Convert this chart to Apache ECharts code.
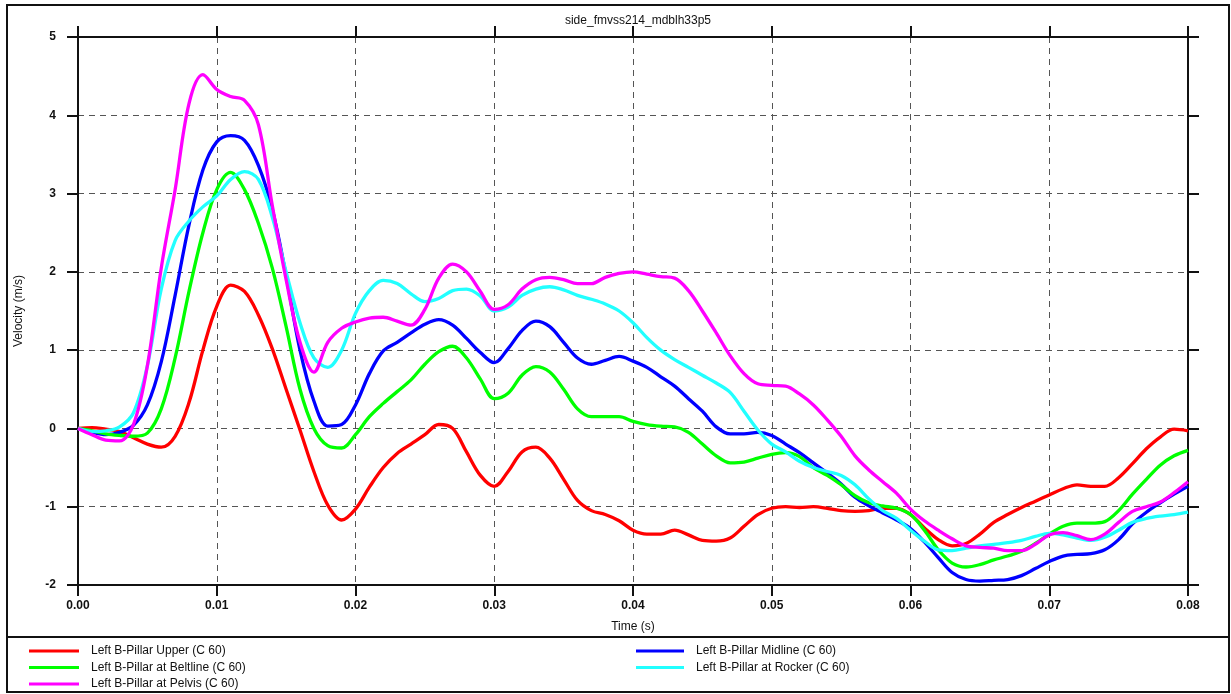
<!DOCTYPE html>
<html>
<head>
<meta charset="utf-8">
<title>side_fmvss214_mdblh33p5</title>
<script src="https://cdn.jsdelivr.net/npm/echarts@6/dist/echarts.min.js"></script>
<style>
  html, body { margin: 0; padding: 0; background: #fff; }
  #container { width: 1231px; height: 694px; }
</style>
</head>
<body>
<div id="container"></div>
<script>
// time samples every 1 ms, 0 .. 80 ms
var timeS = [];
for (var k = 0; k <= 80; k++) timeS.push(k / 1000);

var upperV = [0, 0.01, -0.01, -0.04, -0.12, -0.2, -0.24, -0.1, 0.33, 1.0,
  1.56, 1.83, 1.75, 1.45, 1.02, 0.5, -0.02, -0.55, -0.98, -1.17,
  -1.03, -0.75, -0.5, -0.32, -0.2, -0.08, 0.05, 0.0, -0.3, -0.6,
  -0.74, -0.55, -0.3, -0.24, -0.38, -0.65, -0.92, -1.05, -1.1, -1.18,
  -1.3, -1.35, -1.35, -1.3, -1.36, -1.43, -1.44, -1.4, -1.25, -1.1,
  -1.02, -1.0, -1.01, -1.0, -1.02, -1.05, -1.06, -1.05, -1.02, -1.02,
  -1.1, -1.27, -1.42, -1.5, -1.47, -1.35, -1.2, -1.1, -1.01, -0.93,
  -0.85, -0.77, -0.72, -0.74, -0.74, -0.63, -0.45, -0.26, -0.11, -0.01,
  -0.03];

var midlineV = [0, -0.05, -0.08, -0.05, 0.04, 0.3, 0.85, 1.7, 2.6, 3.3,
  3.66, 3.74, 3.68, 3.36, 2.8, 1.95, 1.0, 0.35, 0.03, 0.05,
  0.3, 0.7, 0.99, 1.1, 1.22, 1.33, 1.39, 1.32, 1.15, 0.97,
  0.84, 1.02, 1.25, 1.37, 1.3, 1.1, 0.9, 0.82, 0.87, 0.92,
  0.86, 0.78, 0.66, 0.54, 0.38, 0.22, 0.02, -0.07, -0.07, -0.05,
  -0.09, -0.2, -0.31, -0.44, -0.57, -0.71, -0.88, -0.99, -1.08, -1.17,
  -1.28, -1.45, -1.65, -1.84, -1.93, -1.95, -1.94, -1.93, -1.88, -1.79,
  -1.7, -1.63, -1.61, -1.6, -1.55, -1.42, -1.22, -1.07, -0.95, -0.84,
  -0.74];

var beltlineV = [0, -0.03, -0.07, -0.09, -0.1, -0.06, 0.25, 0.9, 1.75, 2.5,
  3.05, 3.27, 3.05, 2.62, 2.05, 1.3, 0.5, 0.0, -0.22, -0.25,
  -0.08, 0.15, 0.32, 0.47, 0.62, 0.82, 0.98, 1.05, 0.9, 0.63,
  0.38, 0.45, 0.68, 0.79, 0.72, 0.5, 0.25, 0.15, 0.15, 0.15,
  0.09, 0.05, 0.03, 0.02, -0.05, -0.2, -0.35, -0.44, -0.43, -0.38,
  -0.33, -0.31, -0.36, -0.5, -0.6, -0.72, -0.86, -0.95, -0.99, -1.02,
  -1.1, -1.3, -1.55, -1.72, -1.77, -1.74, -1.68, -1.63, -1.57, -1.47,
  -1.35, -1.25, -1.21, -1.21, -1.19, -1.05, -0.84, -0.65, -0.47, -0.35,
  -0.28];

var rockerV = [0, -0.04, -0.03, 0.02, 0.2, 0.8, 1.78, 2.4, 2.65, 2.83,
  2.97, 3.18, 3.28, 3.18, 2.7, 2.0, 1.35, 0.9, 0.78, 1.0,
  1.47, 1.76, 1.89, 1.85, 1.72, 1.62, 1.66, 1.76, 1.78, 1.69,
  1.5, 1.55, 1.7, 1.78, 1.81, 1.77, 1.7, 1.65, 1.59, 1.5,
  1.35, 1.16, 1.0, 0.88, 0.78, 0.68, 0.58, 0.46, 0.22, -0.02,
  -0.2, -0.3, -0.42, -0.5, -0.55, -0.6, -0.72, -0.9, -1.05, -1.15,
  -1.3, -1.44, -1.55, -1.56, -1.53, -1.5, -1.48, -1.46, -1.43, -1.38,
  -1.34, -1.36, -1.4, -1.43, -1.39, -1.3, -1.2, -1.15, -1.12, -1.1,
  -1.07];

var pelvisV = [0, -0.08, -0.15, -0.16, 0.05, 0.8, 2.05, 3.05, 4.15, 4.52,
  4.33, 4.24, 4.19, 3.88, 2.85, 1.9, 1.1, 0.72, 1.1, 1.28,
  1.36, 1.41, 1.42, 1.37, 1.32, 1.52, 1.92, 2.1, 2.0, 1.75,
  1.52, 1.58, 1.78, 1.9, 1.93, 1.9, 1.85, 1.85, 1.93, 1.98,
  2.0, 1.97, 1.94, 1.92, 1.76, 1.5, 1.22, 0.93, 0.7, 0.57,
  0.55, 0.54, 0.44, 0.3, 0.11, -0.1, -0.35, -0.53, -0.68, -0.83,
  -1.03, -1.18, -1.3, -1.41, -1.5, -1.52, -1.53, -1.56, -1.56, -1.48,
  -1.36, -1.33, -1.37, -1.42, -1.35, -1.2, -1.06, -1.0, -0.94, -0.82,
  -0.68];

var seriesNames = [
  'Left B-Pillar Upper (C 60)',
  'Left B-Pillar Midline (C 60)',
  'Left B-Pillar at Beltline (C 60)',
  'Left B-Pillar at Rocker (C 60)',
  'Left B-Pillar at Pelvis (C 60)'
];
var seriesValues = [upperV, midlineV, beltlineV, rockerV, pelvisV];
var seriesColors = ['#ff0000', '#0000ff', '#00ff00', '#22ffff', '#ff00ff'];

var xTicks = { min: 0, max: 0.08, interval: 0.01 };
var yTicks = { min: -2, max: 5, interval: 1 };

function pairs(vals) {
  var out = [];
  for (var i = 0; i < vals.length; i++) out.push([timeS[i], vals[i]]);
  return out;
}

var myChart = echarts.init(document.getElementById('container'), null, { renderer: 'canvas' });

var font = 'Liberation Sans, Arial, sans-serif';
var axisCol = '#111';

var series = [];
for (var s = 0; s < seriesNames.length; s++) {
  series.push({
    name: seriesNames[s],
    type: 'line',
    data: pairs(seriesValues[s]),
    smooth: 0.35,
    showSymbol: false,
    symbol: 'none',
    lineStyle: { color: seriesColors[s], width: 3.3 },
    itemStyle: { color: seriesColors[s] },
    animation: false
  });
}

var legendText = { fontFamily: font, fontSize: 12, color: '#111', padding: [0, 0, 0, 7] };

option = {
  backgroundColor: '#fff',
  animation: false,
  title: {
    text: 'side_fmvss214_mdblh33p5',
    left: 633,
    top: 10,
    textAlign: 'center',
    textStyle: { fontFamily: font, fontSize: 12, fontWeight: 'normal', color: '#111' }
  },
  legend: [
    {
      data: [seriesNames[0], seriesNames[2], seriesNames[4]],
      orient: 'vertical',
      left: 29, top: 645, padding: 0,
      itemWidth: 50, itemHeight: 3, itemGap: 4.5,
      icon: 'rect',
      textStyle: legendText
    },
    {
      data: [seriesNames[1], seriesNames[3]],
      orient: 'vertical',
      left: 636, top: 645, padding: 0,
      itemWidth: 48, itemHeight: 3, itemGap: 4.5,
      icon: 'rect',
      textStyle: legendText
    }
  ],
  grid: { left: 78, top: 37, width: 1110, height: 548, show: false },
  xAxis: [
    {
      type: 'value',
      min: xTicks.min, max: xTicks.max, interval: xTicks.interval,
      name: 'Time (s)',
      nameLocation: 'middle',
      nameGap: 36,
      nameTextStyle: { fontFamily: font, fontSize: 12, color: '#111' },
      axisLine: { show: true, onZero: false, lineStyle: { color: axisCol, width: 2 } },
      axisTick: { show: true, inside: false, length: 11, lineStyle: { color: axisCol, width: 2 } },
      axisLabel: {
        margin: 15, fontFamily: font, fontSize: 12, fontWeight: 'bold', color: '#111',
        showMinLabel: true, showMaxLabel: true,
        formatter: function (v) { return v.toFixed(2); }
      },
      splitLine: { show: true, lineStyle: { color: '#555', width: 1, type: [6, 5] } }
    },
    {
      type: 'value', position: 'top',
      min: xTicks.min, max: xTicks.max, interval: xTicks.interval,
      axisLine: { show: true, onZero: false, lineStyle: { color: axisCol, width: 2 } },
      axisTick: { show: true, inside: false, length: 11, lineStyle: { color: axisCol, width: 2 } },
      axisLabel: { show: false },
      splitLine: { show: false }
    }
  ],
  yAxis: [
    {
      type: 'value',
      min: yTicks.min, max: yTicks.max, interval: yTicks.interval,
      name: 'Velocity (m/s)',
      nameLocation: 'middle',
      nameGap: 53,
      nameRotate: 90,
      nameTextStyle: { fontFamily: font, fontSize: 12, color: '#111' },
      axisLine: { show: true, onZero: false, lineStyle: { color: axisCol, width: 2 } },
      axisTick: { show: true, inside: false, length: 11, lineStyle: { color: axisCol, width: 2 } },
      axisLabel: { margin: 22, fontFamily: font, fontSize: 12, fontWeight: 'bold', color: '#111' },
      splitLine: { show: true, lineStyle: { color: '#555', width: 1, type: [6, 5] } }
    },
    {
      type: 'value', position: 'right',
      min: yTicks.min, max: yTicks.max, interval: yTicks.interval,
      axisLine: { show: true, onZero: false, lineStyle: { color: axisCol, width: 2 } },
      axisTick: { show: true, inside: false, length: 11, lineStyle: { color: axisCol, width: 2 } },
      axisLabel: { show: false },
      splitLine: { show: false }
    }
  ],
  graphic: [
    { type: 'rect', shape: { x: 7, y: 5, width: 1222, height: 687 },
      style: { fill: null, stroke: '#111', lineWidth: 2 }, silent: true },
    { type: 'line', shape: { x1: 7, y1: 637, x2: 1229, y2: 637 },
      style: { stroke: '#111', lineWidth: 2 }, silent: true }
  ],
  series: series
};

myChart.setOption(option);
</script>
</body>
</html>
